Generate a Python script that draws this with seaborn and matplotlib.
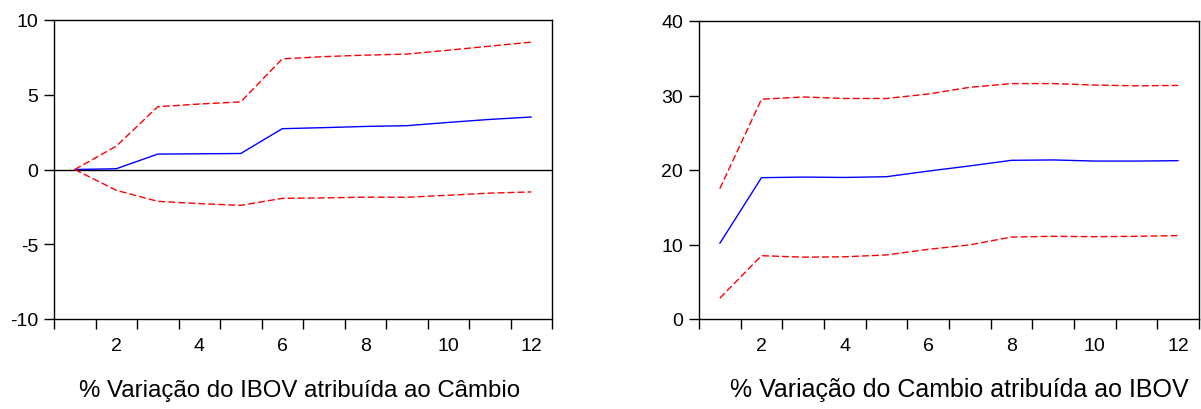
import numpy as np
import pandas as pd
import matplotlib
matplotlib.use("Agg")
import matplotlib.pyplot as plt
import seaborn as sns

# Forecast-error variance decomposition, periods 1..12
periods = list(range(1, 13))

ibov_by_cambio = [0.0, 0.05, 1.03, 1.05, 1.07, 2.73, 2.80, 2.88, 2.93, 3.15, 3.35, 3.51]
ibov_by_cambio_upper = [0.0, 1.56, 4.20, 4.38, 4.52, 7.40, 7.55, 7.65, 7.72, 7.98, 8.25, 8.52]
ibov_by_cambio_lower = [0.0, -1.39, -2.13, -2.28, -2.40, -1.93, -1.90, -1.85, -1.86, -1.72, -1.58, -1.50]

cambio_by_ibov = [10.16, 18.97, 19.05, 19.00, 19.10, 19.85, 20.55, 21.30, 21.35, 21.20, 21.20, 21.25]
cambio_by_ibov_upper = [17.5, 29.5, 29.8, 29.6, 29.6, 30.2, 31.1, 31.6, 31.6, 31.4, 31.3, 31.35]
cambio_by_ibov_lower = [2.8, 8.5, 8.3, 8.35, 8.6, 9.35, 9.95, 11.0, 11.1, 11.05, 11.1, 11.2]

titles = ["% Variação do IBOV atribuída ao Câmbio",
          "% Variação do Cambio atribuída ao IBOV"]
left_yticks = [-10, -5, 0, 5, 10]
right_yticks = [0, 10, 20, 30, 40]
xtick_labels = [2, 4, 6, 8, 10, 12]

sns.set_style("ticks")
plt.rcParams["font.family"] = ["Liberation Sans", "DejaVu Sans"]
plt.rcParams["axes.unicode_minus"] = False
plt.rcParams["text.color"] = "black"

fig = plt.figure(figsize=(12.01, 4.10), dpi=100)
ax1 = fig.add_axes([54 / 1201, 1 - 320 / 410, 498 / 1201, 299 / 410])
ax2 = fig.add_axes([699 / 1201, 1 - 320 / 410, 500 / 1201, 298 / 410])


def draw_panel(ax, mid, upper, lower, ylim, yticks, zero_line):
    df = pd.DataFrame({"period": periods, "mid": mid, "upper": upper, "lower": lower})
    sns.lineplot(data=df, x="period", y="mid", ax=ax, color="#0000ff", lw=1.0)
    for col in ["upper", "lower"]:
        sns.lineplot(data=df, x="period", y=col, ax=ax, color="#ff0000", lw=1.0,
                     dashes=False, linestyle=(0, (5, 2.2)))
    if zero_line:
        ax.axhline(0, color="black", lw=1.0, zorder=1)
    ax.set_xlim(0.5, 12.5)
    ax.set_ylim(*ylim)
    ax.set_yticks(yticks)
    ax.set_yticklabels([str(v) for v in yticks])
    ax.set_xticks(xtick_labels)
    ax.set_xticklabels([str(v) for v in xtick_labels])
    ax.set_xticks(np.arange(0.5, 13.0, 1.0), minor=True)
    ax.tick_params(axis="x", which="major", length=0, pad=13, labelsize=14, colors="black")
    ax.tick_params(axis="x", which="minor", length=7.5, width=1.0, direction="out", color="black")
    ax.tick_params(axis="y", which="major", length=7.5, width=1.0, direction="out",
                   pad=4, labelsize=14, colors="black")
    ax.set_xlabel("")
    ax.set_ylabel("")
    for s in ax.spines.values():
        s.set_visible(True)
        s.set_color("black")
        s.set_linewidth(1.0)
    ax.grid(False)


draw_panel(ax1, ibov_by_cambio, ibov_by_cambio_upper, ibov_by_cambio_lower,
           (-10, 10), left_yticks, True)
draw_panel(ax2, cambio_by_ibov, cambio_by_ibov_upper, cambio_by_ibov_lower,
           (0, 40), right_yticks, False)

# captions under each panel
fig.text(300 / 1201, 1 - 397 / 410, titles[0], ha="center", va="baseline",
         fontsize=17.3, color="black")
fig.text(959 / 1201, 1 - 397 / 410, titles[1], ha="center", va="baseline",
         fontsize=18, color="black")

fig.savefig("out.png", dpi=100, facecolor="white")
